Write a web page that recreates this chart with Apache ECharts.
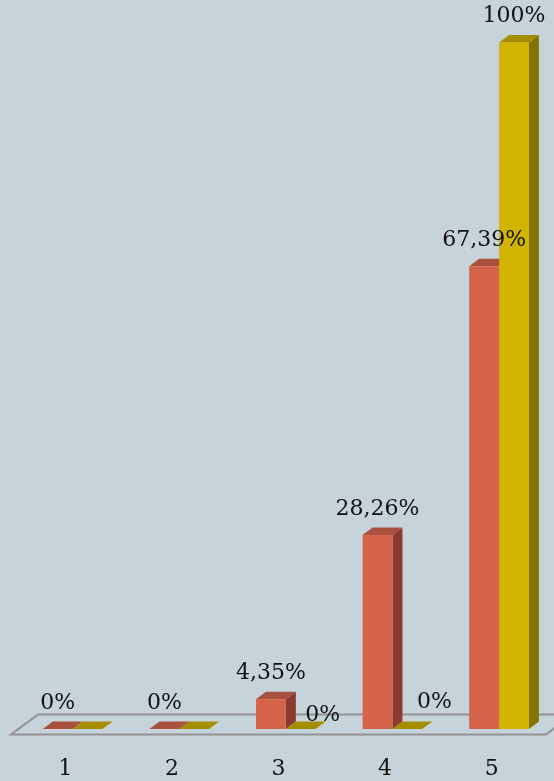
<!DOCTYPE html>
<html>
<head>
<meta charset="utf-8">
<script src="https://cdn.jsdelivr.net/npm/echarts@6/dist/echarts.min.js"></script>
<style>
  html, body { margin: 0; padding: 0; background: #C6D3DA; }
  #chart { width: 554px; height: 781px; }
</style>
</head>
<body>
<div id="chart"></div>
<script>
const categories = ['1', '2', '3', '4', '5'];
const serieRouge = [0, 0, 4.35, 28.26, 67.39];
const serieJaune = [0, 0, 0, 0, 100];

// couleurs des faces : avant, dessus, côté
const palettes = [
  { front: '#D5644B', top: '#A9503E', side: '#883B2E' },
  { front: '#D1B400', top: '#A48E00', side: '#857400' }
];
// décalages des étiquettes (placement Excel) et étiquettes masquées
const labelShift = { 1: { 2: [22, 12], 3: [27, -1] } };
const labelHidden = { 1: [0, 1] };

const font = '22px "DejaVu Serif", serif';
const DX = 10, DY = -7.5;

function fmt(v) {
  return String(v).replace('.', ',') + '%';
}

function barRenderer(k) {
  return function (params, api) {
    const idx = api.value(0), val = api.value(1);
    const band = api.size([1, 0])[0];
    const base = api.coord([idx, 0]);
    const top = api.coord([idx, val]);
    const w = band * 0.28;
    const x0 = base[0] - band * 0.211 + k * w;
    const y0 = base[1], y1 = top[1];
    const pal = palettes[k];
    const children = [
      { type: 'polygon', z2: 1, shape: { points: [[x0 + w, y1], [x0 + w, y0], [x0 + w + DX, y0 + DY], [x0 + w + DX, y1 + DY]] }, style: { fill: pal.side } },
      { type: 'polygon', z2: 1, shape: { points: [[x0, y1], [x0 + w, y1], [x0 + w + DX, y1 + DY], [x0 + DX, y1 + DY]] }, style: { fill: pal.top } },
      { type: 'rect', z2: 2, shape: { x: x0, y: y1, width: w, height: y0 - y1 }, style: { fill: pal.front } }
    ];
    const hidden = (labelHidden[k] || []).indexOf(params.dataIndex) >= 0;
    if (!hidden) {
      const sh = (labelShift[k] || {})[params.dataIndex] || [0, 0];
      children.push({
        type: 'text', z2: 50,
        style: {
          text: fmt(val), x: x0 + w / 2 + sh[0], y: y1 - 26 + sh[1],
          font: font, fill: '#111', align: 'center', verticalAlign: 'middle'
        }
      });
    }
    return { type: 'group', children: children };
  };
}

function floorRenderer(params, api) {
  const cs = params.coordSys;
  const yf = api.coord([0, 0])[1] + 5.5;
  const xl = cs.x - 1, xr = cs.x + cs.width + 1;
  return {
    type: 'polygon', z2: 0,
    shape: { points: [[xl, yf], [xr, yf], [xr + 27, yf - 20], [xl + 27, yf - 20]] },
    style: { fill: 'none', stroke: '#929292', lineWidth: 2 }
  };
}

const chart = echarts.init(document.getElementById('chart'));
chart.setOption({
  backgroundColor: '#C6D3DA',
  animation: false,
  grid: { left: 12, right: 9, top: 42.5, bottom: 52 },
  xAxis: {
    type: 'category',
    data: categories,
    axisLine: { show: false },
    axisTick: { show: false },
    axisLabel: { margin: 40, verticalAlign: 'middle', fontFamily: '"DejaVu Serif", serif', fontSize: 22, color: '#111' }
  },
  yAxis: { type: 'value', min: 0, max: 100, show: false, splitLine: { show: false } },
  series: [
    { type: 'custom', renderItem: floorRenderer, data: [[0, 0]], silent: true },
    { type: 'custom', renderItem: barRenderer(0), data: serieRouge.map((v, i) => [i, v]) },
    { type: 'custom', renderItem: barRenderer(1), data: serieJaune.map((v, i) => [i, v]) }
  ]
});
</script>
</body>
</html>
